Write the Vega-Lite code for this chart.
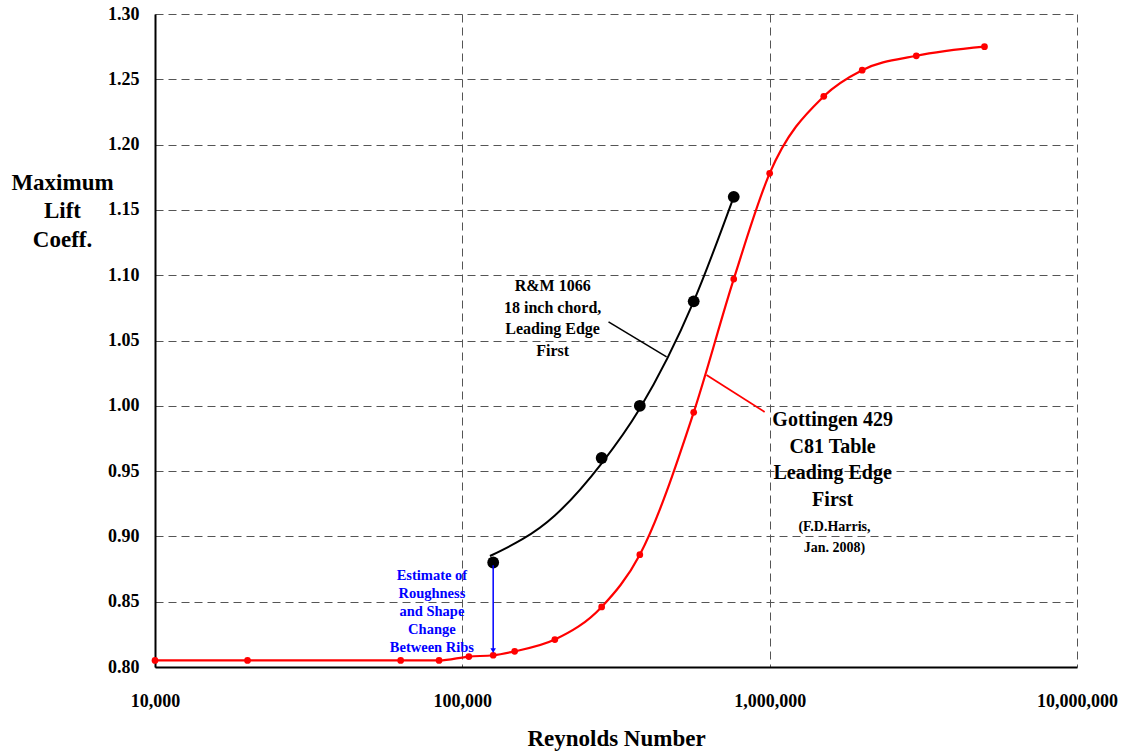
{
  "$schema": "https://vega.github.io/schema/vega-lite/v6.json",
  "width": 922,
  "height": 653,
  "autosize": {"type": "none"},
  "padding": {"left": 155, "top": 14, "right": 53, "bottom": 87},
  "background": "white",
  "config": {
    "font": "Liberation Serif",
    "view": {"stroke": null},
    "axis": {
      "labelFont": "Liberation Serif",
      "labelFontWeight": "bold",
      "labelFontSize": 18,
      "labelColor": "black",
      "titleFont": "Liberation Serif",
      "titleFontWeight": "bold",
      "titleFontSize": 23,
      "titleColor": "black",
      "grid": true,
      "gridColor": "#555555",
      "gridDash": [8, 5],
      "gridWidth": 1,
      "domainColor": "black",
      "domainWidth": 2,
      "ticks": false,
      "labelFlush": false,
      "labelOverlap": false
    }
  },
  "datasets": {
    "gottingen": [
      {"Re": 10000, "CL": 0.805},
      {"Re": 20000, "CL": 0.805},
      {"Re": 63000, "CL": 0.805},
      {"Re": 84000, "CL": 0.805},
      {"Re": 105000, "CL": 0.808},
      {"Re": 126000, "CL": 0.809},
      {"Re": 148000, "CL": 0.812},
      {"Re": 200000, "CL": 0.821},
      {"Re": 284000, "CL": 0.846},
      {"Re": 378000, "CL": 0.886},
      {"Re": 566000, "CL": 0.995},
      {"Re": 764000, "CL": 1.097},
      {"Re": 1000000, "CL": 1.178},
      {"Re": 1500000, "CL": 1.237},
      {"Re": 2000000, "CL": 1.257},
      {"Re": 3000000, "CL": 1.268},
      {"Re": 5000000, "CL": 1.275}
    ],
    "rm": [
      {"Re": 126000, "CL": 0.88},
      {"Re": 284000, "CL": 0.96},
      {"Re": 378000, "CL": 1.0},
      {"Re": 566000, "CL": 1.08},
      {"Re": 764000, "CL": 1.16}
    ],
    "rmcurve": [
      {"Re": 123000, "CL": 0.885},
      {"Re": 200000, "CL": 0.916},
      {"Re": 284000, "CL": 0.956},
      {"Re": 378000, "CL": 0.998},
      {"Re": 566000, "CL": 1.08},
      {"Re": 764000, "CL": 1.16}
    ],
    "arrow": [{"Re": 126000, "CL": 0.878, "CL2": 0.812}],
    "arrowhead": [{"Re": 126000, "CL": 0.8125}],
    "leaderBlack": [{"Re": 299000, "Re2": 462000, "CL": 1.0642, "CL2": 1.0374}],
    "leaderRed": [{"Re": 623000, "Re2": 963000, "CL": 1.0236, "CL2": 0.9953}],
    "rmText": [{"Re": 196700, "CL": 1.0917, "label": "R&M 1066\n18 inch chord,\nLeading Edge\nFirst"}],
    "gotText": [{"Re": 1603000, "CL": 0.9891, "label": "Gottingen 429\nC81 Table\nLeading Edge\nFirst"}],
    "harrisText": [{"Re": 1625000, "CL": 0.9072, "label": "(F.D.Harris,\nJan. 2008)"}],
    "blueText": [{"Re": 79600, "CL": 0.8697, "label": "Estimate of\nRoughness\nand Shape\nChange\nBetween Ribs"}]
  },
  "layer": [
    {
      "data": {"name": "gottingen"},
      "mark": {"type": "line", "color": "#ff0000", "strokeWidth": 2.2, "interpolate": "monotone"},
      "encoding": {
        "x": {
          "field": "Re", "type": "quantitative",
          "scale": {"type": "log", "domain": [10000, 10000000]},
          "axis": {
            "title": "Reynolds Number",
            "values": [10000, 100000, 1000000, 10000000],
            "format": ",",
            "labelPadding": 25,
            "titlePadding": 17
          }
        },
        "y": {
          "field": "CL", "type": "quantitative",
          "scale": {"domain": [0.8, 1.3], "zero": false, "nice": false},
          "axis": {
            "title": ["Maximum", "Lift", "Coeff."],
            "values": [0.8, 0.85, 0.9, 0.95, 1.0, 1.05, 1.1, 1.15, 1.2, 1.25, 1.3],
            "format": ".2f",
            "labelPadding": 16,
            "titleAngle": 0,
            "titleAlign": "center",
            "titleBaseline": "top",
            "titleX": -93,
            "titleY": 157,
            "titleLineHeight": 28.5
          }
        }
      }
    },
    {
      "data": {"name": "gottingen"},
      "mark": {"type": "point", "filled": true, "color": "#ff0000", "size": 45, "opacity": 1},
      "encoding": {
        "x": {"field": "Re", "type": "quantitative"},
        "y": {"field": "CL", "type": "quantitative"}
      }
    },
    {
      "data": {"name": "rmcurve"},
      "mark": {"type": "line", "color": "black", "strokeWidth": 2, "interpolate": "monotone"},
      "encoding": {
        "x": {"field": "Re", "type": "quantitative"},
        "y": {"field": "CL", "type": "quantitative"}
      }
    },
    {
      "data": {"name": "rm"},
      "mark": {"type": "point", "filled": true, "color": "black", "size": 140, "opacity": 1},
      "encoding": {
        "x": {"field": "Re", "type": "quantitative"},
        "y": {"field": "CL", "type": "quantitative"}
      }
    },
    {
      "data": {"name": "arrow"},
      "mark": {"type": "rule", "color": "#0000ff", "strokeWidth": 1.5},
      "encoding": {
        "x": {"field": "Re", "type": "quantitative"},
        "y": {"field": "CL", "type": "quantitative"},
        "y2": {"field": "CL2"}
      }
    },
    {
      "data": {"name": "arrowhead"},
      "mark": {"type": "point", "shape": "triangle-down", "filled": true, "color": "#0000ff", "size": 30, "opacity": 1},
      "encoding": {
        "x": {"field": "Re", "type": "quantitative"},
        "y": {"field": "CL", "type": "quantitative"}
      }
    },
    {
      "data": {"name": "leaderBlack"},
      "mark": {"type": "rule", "color": "black", "strokeWidth": 1.5},
      "encoding": {
        "x": {"field": "Re", "type": "quantitative"},
        "x2": {"field": "Re2"},
        "y": {"field": "CL", "type": "quantitative"},
        "y2": {"field": "CL2"}
      }
    },
    {
      "data": {"name": "leaderRed"},
      "mark": {"type": "rule", "color": "#ff0000", "strokeWidth": 1.8},
      "encoding": {
        "x": {"field": "Re", "type": "quantitative"},
        "x2": {"field": "Re2"},
        "y": {"field": "CL", "type": "quantitative"},
        "y2": {"field": "CL2"}
      }
    },
    {
      "data": {"name": "rmText"},
      "mark": {"type": "text", "font": "Liberation Serif", "fontWeight": "bold", "fontSize": 16, "lineHeight": 21.5, "lineBreak": "\n", "align": "center", "baseline": "middle", "color": "black"},
      "encoding": {
        "x": {"field": "Re", "type": "quantitative"},
        "y": {"field": "CL", "type": "quantitative"},
        "text": {"field": "label"}
      }
    },
    {
      "data": {"name": "gotText"},
      "mark": {"type": "text", "font": "Liberation Serif", "fontWeight": "bold", "fontSize": 20, "lineHeight": 26.5, "lineBreak": "\n", "align": "center", "baseline": "middle", "color": "black"},
      "encoding": {
        "x": {"field": "Re", "type": "quantitative"},
        "y": {"field": "CL", "type": "quantitative"},
        "text": {"field": "label"}
      }
    },
    {
      "data": {"name": "harrisText"},
      "mark": {"type": "text", "font": "Liberation Serif", "fontWeight": "bold", "fontSize": 14, "lineHeight": 21, "lineBreak": "\n", "align": "center", "baseline": "middle", "color": "black"},
      "encoding": {
        "x": {"field": "Re", "type": "quantitative"},
        "y": {"field": "CL", "type": "quantitative"},
        "text": {"field": "label"}
      }
    },
    {
      "data": {"name": "blueText"},
      "mark": {"type": "text", "font": "Liberation Serif", "fontWeight": "bold", "fontSize": 14.5, "lineHeight": 18, "lineBreak": "\n", "align": "center", "baseline": "middle", "color": "#0000ff"},
      "encoding": {
        "x": {"field": "Re", "type": "quantitative"},
        "y": {"field": "CL", "type": "quantitative"},
        "text": {"field": "label"}
      }
    }
  ]
}
